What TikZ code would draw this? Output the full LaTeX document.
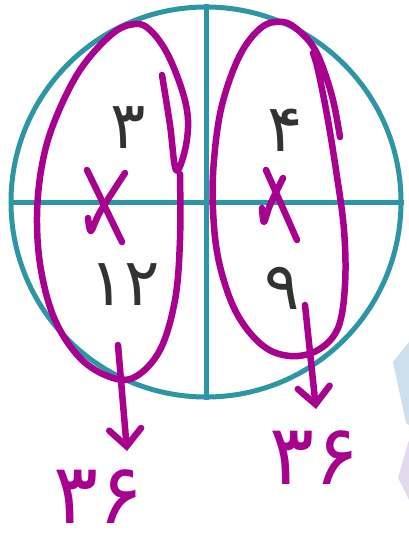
\documentclass[tikz,border=0pt]{standalone}
\usepackage{fontspec}
\newfontfamily\arabicfont[Script=Arabic]{DejaVu Sans}
\newfontfamily\arabicbold[Script=Arabic]{DejaVu Sans Bold}
\usetikzlibrary{arrows.meta}
\definecolor{teal1}{RGB}{45,150,165}
\definecolor{mag}{RGB}{168,0,143}
\definecolor{digray}{RGB}{50,50,50}
\definecolor{paleblue}{RGB}{205,223,236}
\definecolor{palelav}{RGB}{228,216,236}
\tikzset{
  grid/.style={draw=teal1, line width=5pt},
  pen/.style={draw=mag, line width=6.5pt, line cap=round, line join=round},
  penarrow/.style={pen, -{Straight Barb[length=17pt, width=32pt, line width=6.5pt, line cap=round]}},
  bookdigit/.style={text=digray, font=\arabicfont\fontsize{66}{66}\selectfont, inner sep=0pt},
  handdigit/.style={text=mag, font=\arabicfont\fontsize{84}{84}\selectfont, inner sep=0pt}
}
\begin{document}
\begin{tikzpicture}[x=1pt, y=-1pt]
\useasboundingbox (0,0) rectangle (409,543);
% faint background patches at right edge
\fill[paleblue] (393,362) -- (409,342) -- (409,425) -- (406,423) -- cycle;
\fill[palelav] (398,478) -- (409,440) -- (409,500) -- cycle;
% circle with cross
\node[circle, grid, minimum size=390pt, inner sep=0pt] (c) at (206,202) {};
\draw[grid] (c.north) -- (c.south);
\draw[grid] (c.west) -- (c.east);
% book digits
\node[bookdigit] (d3) at (128,128) {۳};
\node[bookdigit] (d4) at (285,130) {۴};
\node[bookdigit] (d12) at (125,285) {۱۲};
\node[bookdigit] (d9) at (282,288) {۹};
% left loop
\draw[pen] plot[smooth, tension=0.6] coordinates {(162,75) (170,125) (176,170) (185,150) (188,120) (182,90) (167,53) (150,30) (135,24) (112,34) (80,70) (55,120) (42,165) (37,217) (41,270) (55,320) (80,358) (110,377) (135,377) (160,350) (175,300) (180,240) (180,174)};
% right loop
\draw[pen] plot[smooth, tension=0.6] coordinates {(340,137) (333,100) (322,65) (312,45) (298,30) (283,22) (262,27) (240,55) (222,105) (214,160) (213,210) (219,262) (236,312) (262,345) (290,356) (318,350) (338,328) (345,285) (344,230) (336,170) (327,115) (318,70) (313,53)};
% X marks
\draw[pen] (87,170) -- (122,242);
\draw[pen] plot[smooth, tension=0.5] coordinates {(125,173) (100,212) (91,231) (88,218)};
\draw[pen] (266,170) -- (297,240);
\draw[pen] plot[smooth, tension=0.5] coordinates {(283,178) (270,205) (264,222) (262,208)};
% arrows
\coordinate (a1s) at (118,345);
\coordinate (a1e) at (127,451);
\coordinate (a2s) at (305,305);
\coordinate (a2e) at (316,409);
\draw[penarrow] (a1s) -- (a1e);
\draw[penarrow] (a2s) -- (a2e);
% handwritten results
\node[handdigit] (r1) at (99,497) {۳۶};
\node[handdigit] (r2) at (315,458) {۳۶};
\end{tikzpicture}
\end{document}
